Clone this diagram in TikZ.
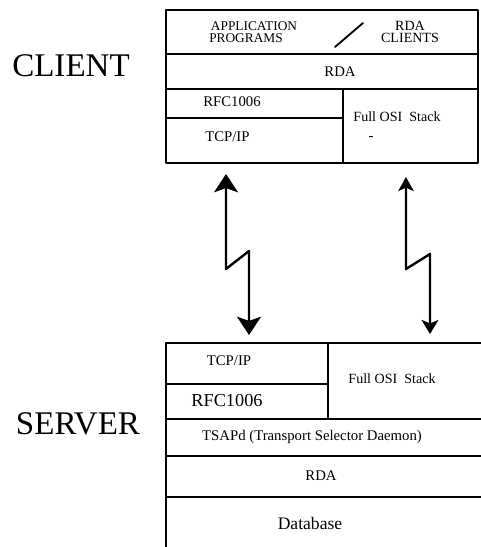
\documentclass[tikz,border=0pt]{standalone}
\usepackage{fontspec}
\setmainfont{Liberation Serif}
\usetikzlibrary{arrows.meta}
\tikzset{
  every picture/.style={line join=round, line cap=round, >=Stealth},
  layer/.style={line width=1.4pt},
  lbl/.style={font=\fontsize{10.5}{11}\selectfont, inner sep=0pt},
  side/.style={font=\fontsize{23.5}{24}\selectfont, inner sep=0pt},
  link/.style={line width=1.7pt},
  big/.style={{Stealth[length=13pt,width=17pt,inset=3pt]}-{Stealth[length=13pt,width=17pt,inset=3pt]}},
  small/.style={{Stealth[length=10pt,width=11pt,inset=2.5pt]}-{Stealth[length=10pt,width=12pt,inset=2.5pt]}},
}

\begin{document}
\begin{tikzpicture}[x=0.025cm,y=-0.025cm]
\useasboundingbox (0,0) rectangle (481,547);
% client stack
\draw[layer] (166,10) rectangle (478,163);
\draw[layer] (166,54) -- (478,54);
\draw[layer] (166,89) -- (478,89);
\draw[layer] (343,89) -- (343,163);
\draw[layer] (166,118) -- (343,118);
\node[side] (client) at (71,66) {CLIENT};
\node[lbl, align=center, font=\fontsize{9.5}{9}\selectfont] (app) at (246,32) {\hspace{1.2em}APPLICATION\\PROGRAMS};
\draw[line width=1.3pt] (335,47) -- (363,23);
\node[lbl, align=center, font=\fontsize{10}{9}\selectfont] (rdacl) at (410,32) {RDA\\CLIENTS};
\node[lbl] (crda) at (340,72) {RDA};
\node[lbl, anchor=west] (crfc) at (203,102) {RFC1006};
\node[lbl, anchor=west] (ctcp) at (205,137) {TCP/IP};
\node[lbl, font=\fontsize{10}{11}\selectfont] (cosi) at (397,117) {Full OSI\ \ Stack};
\node[lbl] (cdash) at (371,138) {-};
% server stack
\draw[layer] (166,547) -- (166,343) -- (481,343);
\draw[layer] (328,343) -- (328,419);
\draw[layer] (166,384) -- (328,384);
\draw[layer] (166,419) -- (481,419);
\draw[layer] (166,456) -- (481,456);
\draw[layer] (166,497) -- (481,497);
\node[side] (server) at (78,424) {SERVER};
\node[lbl] (stcp) at (229,361) {TCP/IP};
\node[lbl, font=\fontsize{13}{14}\selectfont] (srfc) at (227,401) {RFC1006};
\node[lbl, font=\fontsize{10}{11}\selectfont] (sosi) at (392,379) {Full OSI\ \ Stack};
\node[lbl] (tsap) at (312,437) {TSAPd (Transport Selector Daemon)};
\node[lbl] (srda) at (321,476) {RDA};
\node[lbl, font=\fontsize{12.5}{13}\selectfont] (db) at (310,523) {Database};
% links
\coordinate (ctip) at (226,174);
\coordinate (stip) at (249,335);
\coordinate (otip) at (406,177);
\coordinate (utip) at (430,334);
\draw[link, big] (ctip) -- (226,269) -- (249,251) -- (stip);
\draw[link, small] (otip) -- (406,269) -- (430,254) -- (utip);
\end{tikzpicture}
\end{document}
